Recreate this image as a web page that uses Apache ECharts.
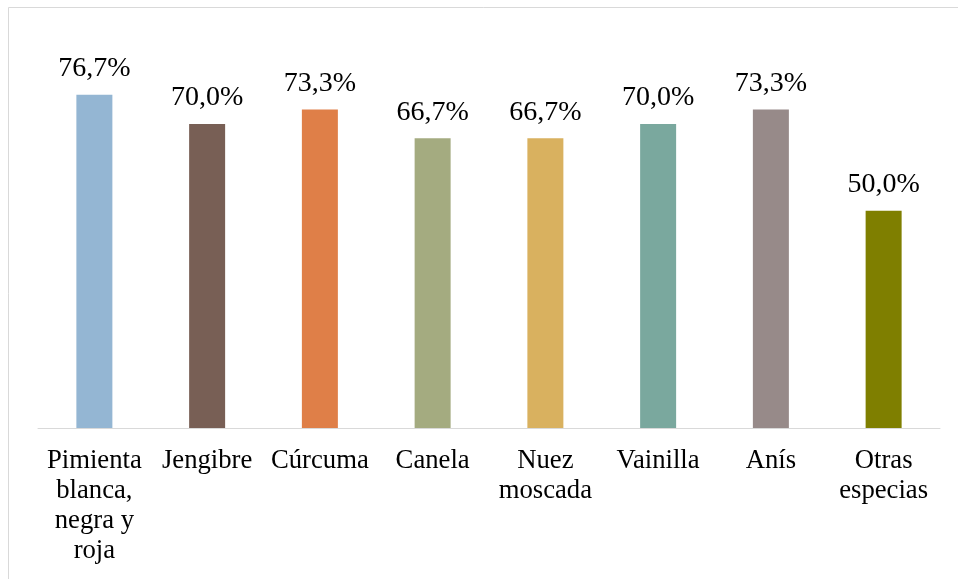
<!DOCTYPE html>
<html>
<head>
<meta charset="utf-8">
<script src="https://cdn.jsdelivr.net/npm/echarts@6/dist/echarts.min.js"></script>
<style>
  html, body { margin: 0; padding: 0; background: #fff; }
  #chart { width: 958px; height: 579px; }
</style>
</head>
<body>
<div id="chart"></div>
<script>
// Spice categories and share of respondents (%)
const categories = ['Pimienta blanca, negra y roja', 'Jengibre', 'Cúrcuma', 'Canela', 'Nuez moscada', 'Vainilla', 'Anís', 'Otras especias'];
// Axis tick labels, wrapped onto lines
const tickLabels = ['Pimienta\nblanca,\nnegra y\nroja', 'Jengibre', 'Cúrcuma', 'Canela', 'Nuez\nmoscada', 'Vainilla', 'Anís', 'Otras\nespecias'];
const values = [76.7, 70.0, 73.3, 66.7, 66.7, 70.0, 73.3, 50.0];
const barColors = ['#94b6d3', '#785f55', '#df7f48', '#a4ab80', '#d9b15f', '#7aa89e', '#978a89', '#7f7f00'];

const chart = echarts.init(document.getElementById('chart'));
const serif = '"Liberation Serif", "Times New Roman", serif';

chart.setOption({
  animation: false,
  backgroundColor: '#fff',
  graphic: [{
    type: 'rect',
    shape: { x: 8.5, y: 7.5, width: 1000, height: 700 },
    style: { fill: 'none', stroke: '#d9d9d9', lineWidth: 1 },
    silent: true
  }],
  grid: { left: 38, right: 18, top: 37, bottom: 151 },
  xAxis: {
    type: 'category',
    data: categories,
    axisLine: { lineStyle: { color: '#d9d9d9', width: 1 } },
    axisTick: { show: false },
    axisLabel: {
      interval: 0,
      margin: 18,
      color: '#000',
      fontFamily: serif,
      fontSize: 26.7,
      lineHeight: 30,
      formatter: (v, i) => tickLabels[i]
    }
  },
  yAxis: {
    type: 'value',
    min: 0,
    max: 90,
    show: false,
    splitLine: { show: false }
  },
  series: [{
    type: 'bar',
    barWidth: 36,
    data: values.map((v, i) => ({ value: v, itemStyle: { color: barColors[i] } })),
    label: {
      show: true,
      position: 'top',
      distance: 12,
      color: '#000',
      fontFamily: serif,
      fontSize: 28,
      formatter: p => p.value.toFixed(1).replace('.', ',') + '%'
    }
  }]
});
</script>
</body>
</html>
